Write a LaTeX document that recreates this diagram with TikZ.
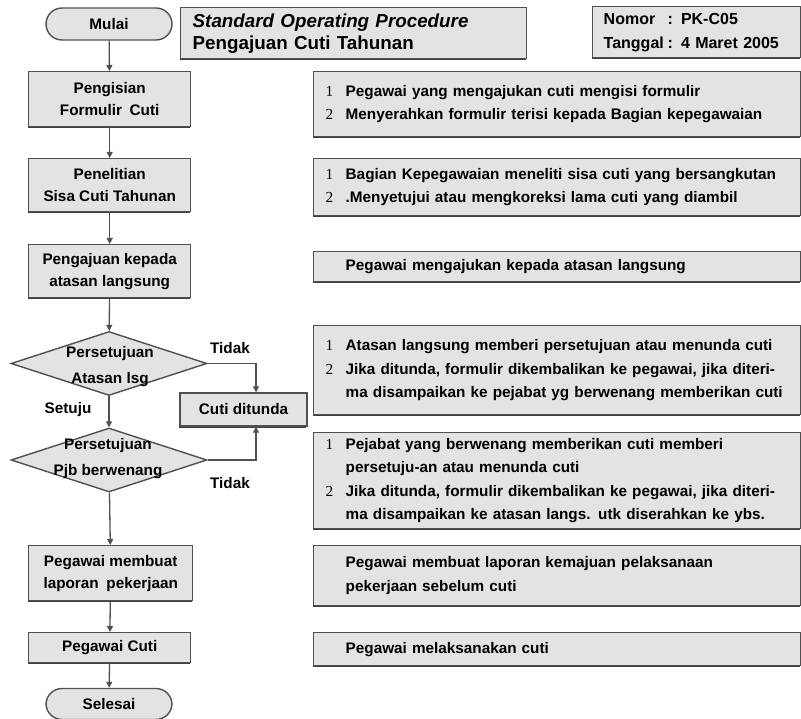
\documentclass[tikz,border=0pt]{standalone}
\usepackage{fontspec}
\setmainfont{Liberation Sans}
\newfontfamily\numfont{Liberation Serif}
\usetikzlibrary{shapes.geometric,arrows.meta,shadows,calc}
\definecolor{boxfill}{HTML}{E3E3E3}
\definecolor{edge}{HTML}{505050}
\newcommand{\itm}[1]{\makebox[20pt][l]{\numfont\mdseries #1}}
\newcommand{\cont}{\hspace*{20pt}}
\begin{document}
\begin{tikzpicture}[x=1pt,y=-1pt,
  base/.style={draw=edge, line width=1.4pt, fill=boxfill, inner sep=0pt,
    font=\fontsize{15.3}{22}\selectfont\bfseries, align=center},
  shad/.style={general shadow={fill=black!75, shadow xshift=-1pt, shadow yshift=-1.6pt}},
  lbox/.style={base, shad, minimum width=162pt, anchor=north west},
  rbox/.style={base, shad, minimum width=487pt, anchor=north west, align=left,
    inner xsep=12pt, text width=463pt, font=\fontsize{15.3}{23.5}\selectfont\bfseries},
  term/.style={base, rounded corners=16pt, minimum width=126pt, minimum height=32pt},
  dec/.style={base, diamond, aspect=3, minimum width=196pt, minimum height=64pt},
  dectext/.style={align=center, inner sep=0pt, font=\fontsize{15.3}{26}\selectfont\bfseries},
  arr/.style={draw=edge, line width=1.3pt, -{Triangle[length=6pt,width=6pt]}},
  lab/.style={font=\fontsize{15.3}{18}\selectfont\bfseries}
]
\useasboundingbox (0,0) rectangle (801,719);

% header
\node[term] (mulai) at (109,24) {Mulai};
\node[base, shad, anchor=north west, minimum width=346pt, minimum height=51pt,
  align=left, inner xsep=12pt, text width=322pt,
  font=\fontsize{18.8}{22}\selectfont\bfseries] (sop) at (180,7)
  {\textit{Standard Operating Procedure}\\Pengajuan Cuti Tahunan};
\node[base, shad, anchor=north west, minimum width=208pt, minimum height=51pt,
  align=left, inner xsep=11pt, text width=186pt,
  font=\fontsize{16}{24}\selectfont\bfseries] (nomor) at (592,6)
  {\makebox[64pt][l]{Nomor}: PK-C05\\\makebox[64pt][l]{Tanggal}: 4 Maret 2005};

% left flow
\node[lbox, minimum height=55pt] (p1) at (28,71) {Pengisian\\Formulir\enspace Cuti};
\node[lbox, minimum height=53pt] (p2) at (28,158) {Penelitian\\Sisa Cuti Tahunan};
\node[lbox, minimum height=53pt] (p3) at (28,244) {Pengajuan kepada\\atasan langsung};
\node[dec] (d1) at (109,363.5) {};
\node[dectext] (d1t) at (110,367) {Persetujuan\\Atasan lsg};
\node[dec] (d2) at (109,460) {};
\node[dectext] (d2t) at (108,459) {Persetujuan\\Pjb berwenang};
\node[base, shad, minimum width=127pt, minimum height=33pt] (tunda) at (243.5,409.5) {Cuti ditunda};
\node[lbox, minimum width=164pt, minimum height=55pt] (p4) at (28,545) {Pegawai membuat\\laporan\enspace pekerjaan};
\node[lbox, minimum height=30pt] (p5) at (28,632) {Pegawai Cuti};
\node[term, minimum height=31pt] (selesai) at (109,704) {Selesai};

\node[lab] (t1) at (230,348) {Tidak};
\node[lab] (s1) at (68,410) {Setuju};
\node[lab] (t2) at (230,483) {Tidak};

% right descriptions
\node[rbox, minimum height=65pt] (r1) at (313,71)
  {\itm{1}Pegawai yang mengajukan cuti mengisi formulir\\
   \itm{2}Menyerahkan formulir terisi kepada Bagian kepegawaian};
\node[rbox, minimum height=57pt] (r2) at (313,158)
  {\itm{1}Bagian Kepegawaian meneliti sisa cuti yang bersangkutan\\
   \itm{2}.Menyetujui atau mengkoreksi lama cuti yang diambil};
\node[rbox, minimum height=30pt] (r3) at (313,251)
  {\cont Pegawai mengajukan kepada atasan langsung};
\node[rbox, minimum height=89pt] (r4) at (313,325)
  {\itm{1}Atasan langsung memberi persetujuan atau menunda cuti\\
   \itm{2}Jika ditunda, formulir dikembalikan ke pegawai, jika diteri-\\
   \cont ma disampaikan ke pejabat yg berwenang memberikan cuti};
\node[rbox, minimum height=96pt] (r5) at (313,432)
  {\itm{1}Pejabat yang berwenang memberikan cuti memberi\\
   \cont persetuju-an atau menunda cuti\\
   \itm{2}Jika ditunda, formulir dikembalikan ke pegawai, jika diteri-\\
   \cont ma disampaikan ke atasan langs. utk diserahkan ke ybs.};
\node[rbox, minimum height=60pt] (r6) at (313,545)
  {\cont Pegawai membuat laporan kemajuan pelaksanaan\\
   \cont pekerjaan sebelum cuti};
\node[rbox, minimum height=33pt] (r7) at (313,632)
  {\cont Pegawai melaksanakan cuti};

% connectors
\draw[arr] (mulai) -- (p1);
\draw[arr] (p1) -- (p2);
\draw[arr] (p2) -- (p3);
\draw[arr] (p3) -- (d1);
\draw[arr] (d1) -- (d2);
\draw[arr] (d2) -- (p4);
\draw[arr] (p4) -- (p5);
\draw[arr] (p5) -- (selesai);
\draw[arr] (d1.east) -| ([xshift=12.5pt]tunda.north);
\draw[arr] (d2.east) -| ([xshift=12.5pt]tunda.south);
\end{tikzpicture}
\end{document}
